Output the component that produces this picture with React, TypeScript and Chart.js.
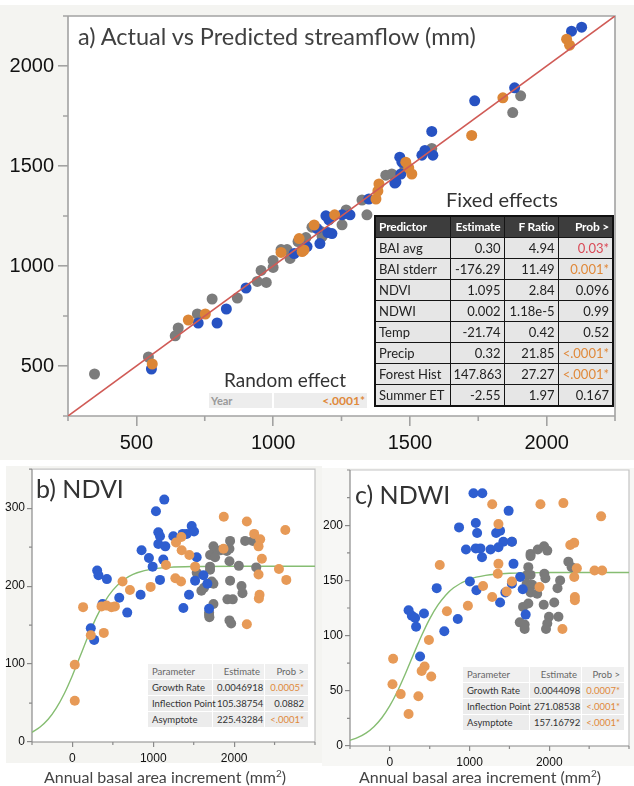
import React, { useEffect, useRef } from "react";
import { Chart, registerables } from "chart.js";
Chart.register(...registerables);

type P = [number, number];

// ---------- Panel a: actual vs predicted streamflow ----------
const aBlue: P[] = [
  [555, 485], [726, 715], [795, 715], [829, 785], [901, 890], [1077, 1062], [1124, 1097], [1161, 1187],
  [1171, 1112], [1193, 1251], [1204, 1231], [1200, 1167], [1215, 1162], [1252, 1256], [1281, 1256],
  [1350, 1335], [1445, 1415], [1449, 1420], [1467, 1460], [1463, 1544], [1471, 1519], [1544, 1554],
  [1555, 1578], [1584, 1554], [1580, 1673], [1737, 1826], [1883, 1891], [2091, 2174], [2128, 2194],
];
const aOrange: P[] = [
  [558, 510], [690, 730], [752, 760], [1029, 1068], [1095, 1137], [1106, 1072], [1113, 1080], [1150, 1205],
  [1225, 1256], [1376, 1335], [1383, 1375], [1387, 1410], [1485, 1519], [1496, 1490], [1507, 1460],
  [1726, 1653], [1840, 1841], [2073, 2134], [2084, 2104],
];
const aGrey: P[] = [
  [347, 460], [544, 545], [642, 651], [653, 690], [723, 760], [777, 835], [869, 840], [942, 923],
  [956, 978], [975, 918], [1000, 993], [1000, 1028], [1029, 1082], [1051, 1082], [1062, 1038],
  [1091, 1122], [1120, 1142], [1142, 1194], [1175, 1172], [1179, 1147], [1252, 1206], [1267, 1280],
  [1343, 1256], [1325, 1330], [1412, 1454], [1434, 1460], [1482, 1490], [1580, 1588], [1876, 1767],
  [1905, 1851],
];
const aIdentity = [250, 2250];
const aTicks = [500, 1000, 1500, 2000];
const aMinor = [250, 750, 1250, 1750, 2250];

// ---------- Panel b: NDVI ----------
const bBlue: P[] = [
  [1136, 311], [1033, 296], [1062, 269], [1083, 264], [1062, 254], [1149, 251], [1248, 264], [1364, 267],
  [1413, 267], [1475, 277], [1504, 270], [1537, 237], [855, 246], [946, 236], [992, 225], [1124, 234],
  [1083, 208], [306, 220], [322, 214], [426, 209], [372, 177], [579, 185], [678, 166], [843, 189],
  [1517, 207], [1442, 189], [1372, 172], [1620, 214], [1669, 203], [1690, 171], [227, 146], [269, 131],
];
const bOrange: P[] = [
  [1872, 289], [2157, 283], [2248, 267], [2322, 260], [2302, 251], [2343, 235], [2633, 272], [2554, 222],
  [2645, 208], [2302, 215], [2314, 189], [2306, 184], [2157, 151], [1868, 248], [1281, 256], [1347, 263],
  [1351, 246], [1446, 240], [1517, 225], [1157, 227], [1273, 210], [1343, 206], [967, 199], [620, 206],
  [711, 195], [132, 173], [360, 174], [422, 175], [483, 173], [525, 174], [227, 137], [388, 140],
  [29, 99], [29, 53],
];
const bGrey: P[] = [
  [1950, 258], [1744, 251], [1764, 246], [1835, 246], [1942, 248], [1909, 245], [2231, 258], [2136, 258],
  [1702, 240], [1764, 237], [1942, 232], [2058, 226], [2273, 224], [1537, 217], [1702, 225], [1702, 221],
  [1723, 206], [1744, 203], [1950, 207], [2091, 200], [1595, 194], [1628, 198], [2103, 191], [1744, 177],
  [1917, 183], [1983, 183], [1690, 166], [1690, 163], [1694, 160], [1942, 156], [1963, 152],
];

// ---------- Panel c: NDWI ----------
const cBlue: P[] = [
  [1049, 229], [1160, 229], [1078, 202], [1095, 193], [868, 198], [1490, 213], [1333, 193], [1383, 195],
  [1424, 185], [1531, 185], [955, 178], [1078, 179], [1136, 179], [1263, 178], [1362, 180], [1156, 171],
  [1551, 165], [1004, 149], [1086, 141], [1383, 130], [1449, 139], [1531, 147], [1634, 153], [1667, 142],
  [1704, 119], [588, 143], [235, 123], [276, 118], [317, 116], [329, 108], [428, 120], [683, 104],
  [852, 115], [379, 81],
];
const cOrange: P[] = [
  [1284, 219], [1889, 219], [2177, 220], [2650, 208], [1362, 201], [2263, 182], [2313, 184], [1362, 165],
  [626, 164], [1354, 156], [2346, 161], [2568, 159], [2663, 159], [2313, 153], [1531, 149], [1169, 145],
  [1877, 144], [1465, 140], [1284, 135], [979, 127], [716, 122], [2321, 135], [2321, 132], [2165, 106],
  [490, 96], [41, 79], [436, 72], [399, 68], [519, 63], [33, 56], [136, 47], [358, 45], [235, 29],
];
const cGrey: P[] = [
  [1531, 185], [1765, 174], [1856, 178], [1934, 181], [1975, 177], [1765, 172], [2239, 167], [2280, 162],
  [1737, 162], [1724, 155], [1765, 155], [1938, 156], [1951, 152], [2136, 150], [1716, 147], [1786, 146],
  [1745, 144], [1765, 139], [1848, 138], [2103, 143], [1671, 126], [1737, 129], [1930, 128], [2062, 130],
  [1996, 117], [2115, 117], [1630, 112], [1691, 110], [1691, 106], [1975, 111], [1959, 106],
];

// fitted logistic curves, read along the x grid
const curveX = [-500, -400, -300, -200, -100, 0, 100, 200, 300, 400, 500, 600, 700, 800, 1000, 1200, 1500, 2000, 3000];
const bCurveY = [12.4, 19.3, 29.2, 43.5, 62.3, 85.4, 111.3, 137.3, 160.9, 180.2, 194.8, 205.3, 212.4, 217.1, 222.1, 224.1, 225.1, 225.4, 225.4];
const cCurveY = [5.1, 7.8, 11.7, 17.5, 25.6, 36.5, 50.3, 66.4, 83.6, 100.3, 115.2, 127.3, 136.6, 143.3, 151.1, 154.6, 156.5, 157.1, 157.2];

const bxTicks = [0, 1000, 2000];
const bxMinor = [-500, 500, 1500, 2500, 3000];
const byTicks = [0, 100, 200, 300];
const byMinor = [50, 150, 250, 350];
const cyTicks = [0, 50, 100, 150, 200];
const cyMinor = [25, 75, 125, 175, 225, 250];

// ---------- tables ----------
const fixedHeader = ["Predictor", "Estimate", "F Ratio", "Prob >"];
const fixedPredictor = ["BAI avg", "BAI stderr", "NDVI", "NDWI", "Temp", "Precip", "Forest Hist", "Summer ET"];
const fixedEstimate = ["0.30", "-176.29", "1.095", "0.002", "-21.74", "0.32", "147.863", "-2.55"];
const fixedF = ["4.94", "11.49", "2.84", "1.18e-5", "0.42", "21.85", "27.27", "1.97"];
const fixedProb = ["0.03*", "0.001*", "0.096", "0.99", "0.52", "<.0001*", "<.0001*", "0.167"];
const fixedProbTone = ["red", "orange", "", "", "", "orange", "orange", ""];

const paramHeader = ["Parameter", "Estimate", "Prob >"];
const paramNames = ["Growth Rate", "Inflection Point", "Asymptote"];
const bEstimate = ["0.0046918", "105.38754", "225.43284"];
const bProb = ["0.0005*", "0.0882", "<.0001*"];
const cEstimate = ["0.0044098", "271.08538", "157.16792"];
const cProb = ["0.0007*", "<.0001*", "<.0001*"];

// ---------- styles ----------
const FONT = "Lato, 'Open Sans', sans-serif";
const TICKFONT = "'Liberation Sans', Arial, sans-serif";
const BG = "#f4f4f1";
const BLUE = "#2752c2";
const ORANGE = "#dc8636";
const GREY = "#7c7c7c";
const BLUE2 = "#2e5ed0";
const ORANGE2 = "#e79a57";
const GREY2 = "#7a7a7a";
const TXT_ORANGE = "#e0893a";
const TXT_RED = "#d94a57";

type Axis = { min: number; max: number; ticks: number[]; minor: number[] };
type Spec = {
  width: number;
  height: number;
  area: { left: number; top: number; right: number; bottom: number };
  x: Axis;
  y: Axis;
  datasets: any[];
  tickLen: number;
  minorLen: number;
  xPad: number;
  yPad: number;
  fontSize: number;
  axisColor: string;
  frameColor: string;
  lineWidth: number;
};

const toXY = (arr: P[]) => arr.map(([x, y]) => ({ x, y }));

const framePlugin = {
  id: "frame",
  beforeDraw(chart: any) {
    const { ctx, chartArea: a } = chart;
    ctx.save();
    ctx.fillStyle = "#ffffff";
    ctx.fillRect(a.left, a.top, a.right - a.left, a.bottom - a.top);
    ctx.restore();
  },
  beforeDatasetsDraw(chart: any, _a: any, o: any) {
    const { ctx, chartArea: a, scales } = chart;
    ctx.save();
    ctx.lineWidth = o.lineWidth;
    ctx.strokeStyle = o.frameColor;
    ctx.beginPath();
    ctx.moveTo(a.left, a.top);
    ctx.lineTo(a.right, a.top);
    ctx.lineTo(a.right, a.bottom);
    ctx.stroke();
    ctx.strokeStyle = o.axisColor;
    ctx.beginPath();
    ctx.moveTo(a.left, a.top);
    ctx.lineTo(a.left, a.bottom);
    ctx.lineTo(a.right, a.bottom);
    for (const v of o.xMinor) {
      const px = scales.x.getPixelForValue(v);
      ctx.moveTo(px, a.bottom);
      ctx.lineTo(px, a.bottom + o.minorLen);
    }
    for (const v of o.yMinor) {
      const py = scales.y.getPixelForValue(v);
      ctx.moveTo(a.left, py);
      ctx.lineTo(a.left - o.minorLen, py);
    }
    ctx.stroke();
    ctx.restore();
  },
};

function ChartCanvas({ left, top, spec }: { left: number; top: number; spec: Spec }) {
  const ref = useRef<HTMLCanvasElement | null>(null);
  useEffect(() => {
    if (!ref.current) return;
    const s = spec;
    const scale = (ax: Axis, isX: boolean) => ({
      type: "linear",
      position: isX ? "bottom" : "left",
      min: ax.min,
      max: ax.max,
      afterBuildTicks: (sc: any) => {
        sc.ticks = ax.ticks.map((v) => ({ value: v }));
      },
      afterFit: (sc: any) => {
        if (isX) sc.height = s.height - s.area.bottom;
        else sc.width = s.area.left;
      },
      grid: {
        display: true,
        drawOnChartArea: false,
        drawTicks: true,
        tickLength: s.tickLen,
        color: s.axisColor,
        lineWidth: s.lineWidth,
      },
      border: { display: false },
      ticks: {
        padding: isX ? s.xPad : s.yPad,
        color: "#111",
        font: { family: TICKFONT, size: s.fontSize },
        autoSkip: false,
        maxRotation: 0,
        callback: (v: any) => String(v),
      },
    });
    const chart = new Chart(ref.current, {
      type: "scatter",
      data: { datasets: s.datasets },
      options: {
        responsive: false,
        animation: false,
        devicePixelRatio: 1,
        layout: { padding: { left: 0, top: s.area.top, right: s.width - s.area.right, bottom: 0 } },
        scales: { x: scale(s.x, true), y: scale(s.y, false) } as any,
        plugins: {
          legend: { display: false },
          tooltip: { enabled: false },
          frame: {
            xMinor: s.x.minor,
            yMinor: s.y.minor,
            minorLen: s.minorLen,
            axisColor: s.axisColor,
            frameColor: s.frameColor,
            lineWidth: s.lineWidth,
          },
        } as any,
      },
      plugins: [framePlugin as any],
    });
    return () => chart.destroy();
  }, []);
  return (
    <canvas
      ref={ref}
      width={spec.width}
      height={spec.height}
      style={{ position: "absolute", left, top, width: spec.width, height: spec.height }}
    />
  );
}

const pts = (data: P[], color: string, r: number, order: number) => ({
  type: "scatter",
  data: toXY(data),
  pointRadius: r,
  pointBackgroundColor: color,
  pointBorderWidth: 0,
  borderWidth: 0,
  order,
});

const specA: Spec = {
  width: 634,
  height: 460,
  area: { left: 68, top: 12, right: 615, bottom: 416 },
  x: { min: 250, max: 2250, ticks: aTicks, minor: aMinor },
  y: { min: 250, max: 2250, ticks: aTicks, minor: aMinor },
  tickLen: 10,
  minorLen: 5,
  xPad: 5,
  yPad: 4,
  fontSize: 20,
  axisColor: "#a2a2a2",
  frameColor: "#a2a2a2",
  lineWidth: 1.6,
  datasets: [
    {
      type: "line",
      data: aIdentity.map((v) => ({ x: v, y: v })),
      borderColor: "#d05b56",
      borderWidth: 1.6,
      pointRadius: 0,
      order: 0,
    },
    pts(aGrey, GREY, 5.5, 3),
    pts(aBlue, BLUE, 5.5, 2),
    pts(aOrange, ORANGE, 5.5, 1),
  ],
};

const curve = (ys: number[]) => ({
  type: "line",
  data: curveX.map((x, i) => ({ x, y: ys[i] })),
  borderColor: "#86bd72",
  borderWidth: 1.4,
  pointRadius: 0,
  cubicInterpolationMode: "monotone",
  order: 10,
});

const specB: Spec = {
  width: 322,
  height: 310,
  area: { left: 32, top: 6, right: 315, bottom: 282 },
  x: { min: -500, max: 3000, ticks: bxTicks, minor: bxMinor },
  y: { min: 0, max: 350, ticks: byTicks, minor: byMinor },
  tickLen: 5,
  minorLen: 3,
  xPad: 4,
  yPad: 2,
  fontSize: 12,
  axisColor: "#8a8a8a",
  frameColor: "#c4c4c4",
  lineWidth: 1.2,
  datasets: [curve(bCurveY), pts(bGrey, GREY2, 5, 3), pts(bBlue, BLUE2, 5, 2), pts(bOrange, ORANGE2, 5, 1)],
};

const specC: Spec = {
  width: 312,
  height: 310,
  area: { left: 28, top: 10, right: 311, bottom: 286 },
  x: { min: -500, max: 3000, ticks: bxTicks, minor: bxMinor },
  y: { min: 0, max: 250, ticks: cyTicks, minor: cyMinor },
  tickLen: 5,
  minorLen: 3,
  xPad: 4,
  yPad: 2,
  fontSize: 12,
  axisColor: "#8a8a8a",
  frameColor: "#c4c4c4",
  lineWidth: 1.2,
  datasets: [curve(cCurveY), pts(cGrey, GREY2, 5, 3), pts(cBlue, BLUE2, 5, 2), pts(cOrange, ORANGE2, 5, 1)],
};

const abs = (l: number, t: number, extra: React.CSSProperties = {}): React.CSSProperties => ({
  position: "absolute",
  left: l,
  top: t,
  ...extra,
});

function FixedTable() {
  const widths = [75, 54, 54, 55];
  const cell: React.CSSProperties = {
    border: "1.5px solid #151515",
    padding: "0 3px",
    height: 20,
    fontSize: 13,
    lineHeight: "20px",
    whiteSpace: "nowrap",
    overflow: "hidden",
    color: "#222",
    background: "#e6e6e6",
  };
  return (
    <table
      style={abs(374, 215, {
        borderCollapse: "collapse",
        tableLayout: "fixed",
        width: 238,
        fontFamily: FONT,
        border: "2px solid #111",
      })}
    >
      <colgroup>
        {widths.map((w, i) => (
          <col key={i} style={{ width: w }} />
        ))}
      </colgroup>
      <thead>
        <tr>
          {fixedHeader.map((h, i) => (
            <th
              key={h}
              style={{
                ...cell,
                height: 20,
                fontSize: 12,
                letterSpacing: -0.2,
                background: "#3d3d3d",
                color: "#fff",
                fontWeight: 700,
                textAlign: i === 0 ? "left" : "right",
              }}
            >
              {h}
            </th>
          ))}
        </tr>
      </thead>
      <tbody>
        {fixedPredictor.map((p, r) => (
          <tr key={p}>
            <td style={{ ...cell, textAlign: "left" }}>{p}</td>
            <td style={{ ...cell, textAlign: "right" }}>{fixedEstimate[r]}</td>
            <td style={{ ...cell, textAlign: "right" }}>{fixedF[r]}</td>
            <td
              style={{
                ...cell,
                textAlign: "right",
                color: fixedProbTone[r] === "red" ? TXT_RED : fixedProbTone[r] === "orange" ? TXT_ORANGE : "#222",
              }}
            >
              {fixedProb[r]}
            </td>
          </tr>
        ))}
      </tbody>
    </table>
  );
}

function ParamTable({ left, top, widths, est, prob }: { left: number; top: number; widths: number[]; est: string[]; prob: string[] }) {
  const cell: React.CSSProperties = {
    padding: "0 4px",
    height: 15,
    fontSize: 9.5,
    lineHeight: "15px",
    whiteSpace: "nowrap",
    color: "#333",
    background: "#ececec",
  };
  const probColor = (v: string) => (v.endsWith("*") ? TXT_ORANGE : "#333");
  return (
    <table
      style={abs(left, top, {
        borderCollapse: "separate",
        borderSpacing: "1.6px",
        tableLayout: "fixed",
        width: widths.reduce((a, b) => a + b, 0),
        fontFamily: FONT,
        background: "#fff",
      })}
    >
      <colgroup>
        {widths.map((w, i) => (
          <col key={i} style={{ width: w }} />
        ))}
      </colgroup>
      <thead>
        <tr>
          {paramHeader.map((h, i) => (
            <th
              key={h}
              style={{ ...cell, fontWeight: 400, color: "#666", background: "#f0f0f0", textAlign: i === 0 ? "left" : "right" }}
            >
              {h}
            </th>
          ))}
        </tr>
      </thead>
      <tbody>
        {paramNames.map((n, r) => (
          <tr key={n}>
            <td style={{ ...cell, textAlign: "left" }}>{n}</td>
            <td style={{ ...cell, textAlign: "right" }}>{est[r]}</td>
            <td style={{ ...cell, textAlign: "right", color: probColor(prob[r]) }}>{prob[r]}</td>
          </tr>
        ))}
      </tbody>
    </table>
  );
}

export default function App() {
  return (
    <div
      style={{
        position: "absolute",
        left: 0,
        top: 0,
        width: 634,
        height: 786,
        background: "#fff",
        overflow: "hidden",
        fontFamily: FONT,
      }}
    >
      <div style={abs(0, 5, { width: 634, height: 455, background: BG })} />
      <div style={abs(6, 466, { width: 316, height: 297, background: BG })} />
      <div style={abs(322, 468, { width: 312, height: 298, background: "#f7f7f5" })} />

      <ChartCanvas left={0} top={0} spec={specA} />
      <ChartCanvas left={0} top={460} spec={specB} />
      <ChartCanvas left={322} top={460} spec={specC} />

      <div style={abs(78, 24, { fontSize: 23.5, lineHeight: "24px", color: "#404040", whiteSpace: "nowrap" })}>
        a) Actual vs Predicted streamflow (mm)
      </div>
      <div style={abs(392, 187, { width: 220, textAlign: "center", fontSize: 20, lineHeight: "24px", color: "#333" })}>
        Fixed effects
      </div>
      <FixedTable />

      <div style={abs(200, 368, { width: 170, textAlign: "center", fontSize: 19, lineHeight: "24px", color: "#333" })}>
        Random effect
      </div>
      <div
        style={abs(209, 393, {
          width: 63,
          height: 15,
          background: "#ededed",
          color: "#9a9a9a",
          fontSize: 11,
          fontWeight: 700,
          lineHeight: "15px",
          paddingLeft: 2,
          boxSizing: "border-box",
        })}
      >
        Year
      </div>
      <div
        style={abs(274, 393, {
          width: 93,
          height: 15,
          background: "#ededed",
          color: TXT_ORANGE,
          fontSize: 12,
          fontWeight: 700,
          lineHeight: "15px",
          textAlign: "right",
          paddingRight: 2,
          boxSizing: "border-box",
        })}
      >
        {"<.0001*"}
      </div>

      <div style={abs(36, 474, { fontSize: 25, lineHeight: "28px", color: "#333" })}>b) NDVI</div>
      <div style={abs(355, 480, { fontSize: 25, lineHeight: "28px", color: "#333" })}>c) NDWI</div>

      <ParamTable left={147} top={663} widths={[64, 51, 43]} est={bEstimate} prob={bProb} />
      <ParamTable left={462} top={666} widths={[66, 51, 42]} est={cEstimate} prob={cProb} />

      <div style={abs(20, 768, { width: 290, textAlign: "center", fontSize: 16, lineHeight: "18px", color: "#444" })}>
        Annual basal area increment (mm<sup style={{ fontSize: 10, lineHeight: 0 }}>2</sup>)
      </div>
      <div style={abs(335, 768, { width: 290, textAlign: "center", fontSize: 16, lineHeight: "18px", color: "#444" })}>
        Annual basal area increment (mm<sup style={{ fontSize: 10, lineHeight: 0 }}>2</sup>)
      </div>
    </div>
  );
}
